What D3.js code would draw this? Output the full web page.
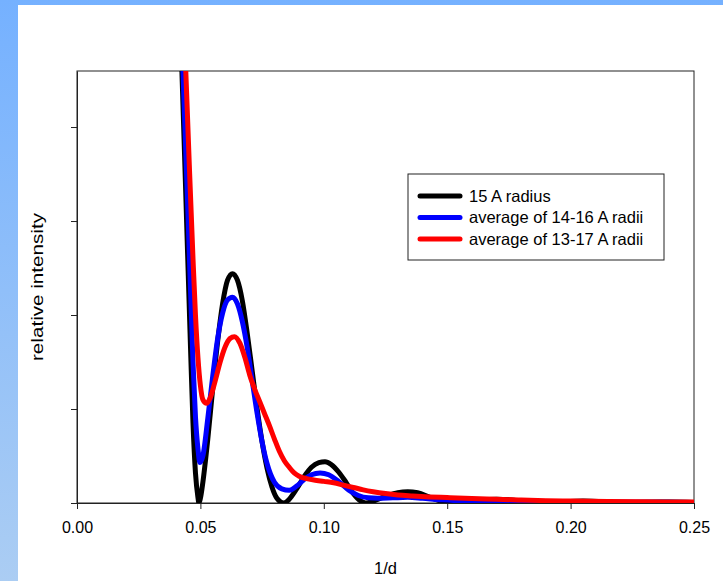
<!DOCTYPE html>
<html>
<head>
<meta charset="utf-8">
<script src="https://cdn.jsdelivr.net/npm/d3@7"></script>
<style>
  body { margin: 0; }
  svg { display: block; font-family: "Liberation Sans", Arial, sans-serif; }
</style>
</head>
<body>
<script>
// chart data (x = 1/d, y = relative intensity)
var seriesNames = ["15 A radius", "average of 14-16 A radii", "average of 13-17 A radii"];
var seriesColors = ["#000000", "#0000ff", "#ff0000"];
var xTicks = [0.00, 0.05, 0.10, 0.15, 0.20, 0.25];
var yTicks = [0, 1, 2, 3, 4];

var black15 = [
  [0.040, 6.4], [0.0425, 4.6], [0.044, 3.35], [0.046, 1.65], [0.047, 0.85], [0.048, 0.32],
  [0.049, 0.06], [0.0494, 0], [0.050, 0.05], [0.051, 0.22], [0.053, 0.68], [0.055, 1.22],
  [0.057, 1.72], [0.059, 2.12], [0.061, 2.37], [0.063, 2.44], [0.065, 2.37], [0.067, 2.15],
  [0.069, 1.8], [0.071, 1.4], [0.073, 1.0], [0.075, 0.65], [0.077, 0.37], [0.079, 0.17],
  [0.081, 0.05], [0.0838, 0], [0.086, 0.04], [0.089, 0.15], [0.092, 0.28], [0.095, 0.38],
  [0.098, 0.43], [0.1005, 0.44], [0.103, 0.41], [0.106, 0.33], [0.109, 0.22], [0.112, 0.10],
  [0.115, 0.02], [0.117, 0], [0.120, 0.02], [0.125, 0.07], [0.130, 0.11], [0.134, 0.12],
  [0.138, 0.11], [0.143, 0.06], [0.148, 0.015], [0.151, 0], [0.156, 0.01], [0.163, 0.03],
  [0.170, 0.04], [0.177, 0.03], [0.183, 0.01], [0.187, 0], [0.195, 0.01], [0.205, 0.02],
  [0.215, 0.01], [0.221, 0], [0.230, 0.008], [0.240, 0.01], [0.250, 0.005]
];

var blue1416 = [
  [0.040, 6.4], [0.043, 4.55], [0.045, 3.05], [0.047, 1.5], [0.048, 0.92], [0.049, 0.58],
  [0.0498, 0.43], [0.051, 0.5], [0.053, 0.9], [0.055, 1.35], [0.057, 1.75], [0.059, 2.02],
  [0.061, 2.16], [0.063, 2.19], [0.065, 2.12], [0.067, 1.93], [0.069, 1.65], [0.071, 1.3],
  [0.073, 0.95], [0.075, 0.65], [0.077, 0.42], [0.080, 0.22], [0.083, 0.15], [0.086, 0.135],
  [0.089, 0.18], [0.092, 0.25], [0.095, 0.3], [0.0985, 0.32], [0.102, 0.3], [0.106, 0.23],
  [0.110, 0.14], [0.114, 0.08], [0.118, 0.055], [0.122, 0.05], [0.128, 0.055], [0.134, 0.06],
  [0.140, 0.05], [0.147, 0.035], [0.155, 0.025], [0.165, 0.025], [0.175, 0.022], [0.185, 0.015],
  [0.200, 0.012], [0.215, 0.01], [0.230, 0.008], [0.250, 0.006]
];

var red1317 = [
  [0.041, 6.4], [0.044, 4.65], [0.0455, 3.6], [0.047, 2.6], [0.048, 2.0], [0.049, 1.55],
  [0.050, 1.25], [0.051, 1.1], [0.0525, 1.06], [0.054, 1.12], [0.056, 1.3], [0.058, 1.5],
  [0.060, 1.66], [0.062, 1.75], [0.0638, 1.77], [0.066, 1.70], [0.068, 1.55], [0.070, 1.36],
  [0.072, 1.21], [0.074, 1.08], [0.076, 0.95], [0.078, 0.82], [0.080, 0.68], [0.082, 0.55],
  [0.084, 0.45], [0.086, 0.38], [0.088, 0.32], [0.090, 0.285], [0.093, 0.26], [0.096, 0.245],
  [0.100, 0.23], [0.104, 0.215], [0.108, 0.19], [0.112, 0.165], [0.116, 0.14], [0.120, 0.12],
  [0.125, 0.10], [0.130, 0.085], [0.136, 0.075], [0.143, 0.065], [0.150, 0.058], [0.160, 0.048],
  [0.170, 0.04], [0.180, 0.032], [0.190, 0.025], [0.200, 0.02], [0.215, 0.015], [0.230, 0.012],
  [0.250, 0.01]
];

var allSeries = [black15, blue1416, red1317];

var width = 723, height = 581;
var margin = {top: 71, right: 29, bottom: 78, left: 77};

var svg = d3.select("body").append("svg")
    .attr("width", width)
    .attr("height", height);

//blue frame behind the white page
var grad = svg.append("defs").append("linearGradient")
    .attr("id", "frame")
    .attr("x1", 0).attr("y1", 0).attr("x2", 0).attr("y2", 1);
grad.append("stop").attr("offset", "0%").attr("stop-color", "#75b1ff");
grad.append("stop").attr("offset", "100%").attr("stop-color", "#abcdf3");

svg.append("rect")
    .attr("width", width).attr("height", height)
    .attr("fill", "url(#frame)");
svg.append("rect")
    .attr("x", 18).attr("y", 5)
    .attr("width", width - 18).attr("height", height - 5)
    .attr("fill", "#ffffff");

svg.select("defs").append("clipPath").attr("id", "plotclip")
  .append("rect")
    .attr("x", margin.left).attr("y", margin.top)
    .attr("width", width - margin.left - margin.right)
    .attr("height", height - margin.top - margin.bottom);

var x = d3.scaleLinear()
    .domain([0, 0.25])
    .range([margin.left, width - margin.right]);

var y = d3.scaleLinear()
    .domain([0, 4.596])
    .range([height - margin.bottom, margin.top]);

//x axis
var xAxis = svg.append("g")
    .attr("transform", "translate(0," + (height - margin.bottom) + ")")
    .call(d3.axisBottom(x).tickValues(xTicks).tickFormat(d3.format(".2f")).tickSize(6).tickSizeOuter(0).tickPadding(13));
xAxis.selectAll("text").attr("font-size", 16).attr("fill", "#000")
    .attr("font-family", "'Liberation Sans', Arial, sans-serif");

//y axis, ticks only
var yAxis = svg.append("g")
    .attr("transform", "translate(" + margin.left + ",0)")
    .call(d3.axisLeft(y).tickValues(yTicks).tickFormat("").tickSize(6).tickSizeOuter(0));

svg.selectAll(".domain, .tick line").attr("stroke", "#222");

//frame on top and right
svg.append("rect")
    .attr("x", margin.left).attr("y", margin.top)
    .attr("width", width - margin.left - margin.right)
    .attr("height", height - margin.top - margin.bottom)
    .attr("fill", "none")
    .attr("stroke", "#222");

var line = d3.line()
    .x(function(d){ return x(d[0]); })
    .y(function(d){ return y(d[1]); })
    .curve(d3.curveMonotoneX);

svg.append("g")
    .attr("clip-path", "url(#plotclip)")
  .selectAll("path")
    .data(allSeries)
    .enter()
  .append("path")
    .attr("d", line)
    .attr("fill", "none")
    .attr("stroke", function(d, i){ return seriesColors[i]; })
    .attr("stroke-width", 5)
    .attr("stroke-linejoin", "round")
    .attr("stroke-linecap", "round");

//legend
var legend = svg.append("g").attr("transform", "translate(408,174)");
legend.append("rect")
    .attr("width", 256).attr("height", 86)
    .attr("fill", "#fff").attr("stroke", "#222");
var items = legend.selectAll(".item")
    .data(seriesNames)
    .enter()
  .append("g")
    .attr("transform", function(d, i){ return "translate(0," + (22 + i * 21.5) + ")"; });
items.append("line")
    .attr("x1", 12).attr("x2", 52)
    .attr("stroke", function(d, i){ return seriesColors[i]; })
    .attr("stroke-width", 5)
    .attr("stroke-linecap", "round");
items.append("text")
    .attr("x", 61).attr("dy", "0.35em")
    .attr("font-size", 16.5)
    .text(function(d){ return d; });

//axis titles
svg.append("text")
    .attr("x", (margin.left + width - margin.right) / 2)
    .attr("y", 574)
    .attr("text-anchor", "middle")
    .attr("font-size", 16.5)
    .text("1/d");

svg.append("text")
    .attr("transform", "translate(43,287) rotate(-90)")
    .attr("text-anchor", "middle")
    .attr("font-size", 17)
    .attr("textLength", 148)
    .attr("lengthAdjust", "spacingAndGlyphs")
    .text("relative intensity");
</script>
</body>
</html>
